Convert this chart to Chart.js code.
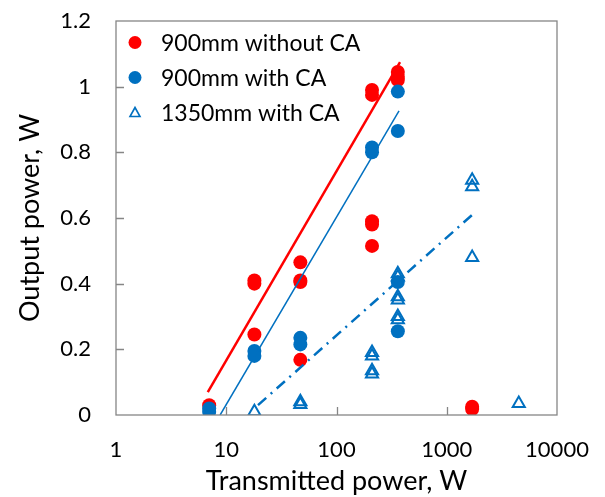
<!DOCTYPE html>
<html>
<head>
<meta charset="utf-8">
<script src="https://cdn.jsdelivr.net/npm/chart.js@4"></script>
<style>
  html, body { margin: 0; padding: 0; background: #fff; }
  #wrap { width: 605px; height: 497px; }
</style>
</head>
<body>
<div id="wrap"><canvas id="chart" width="605" height="497"></canvas></div>
<script>
// series names (legend order)
var seriesNames = ['900mm without CA', '900mm with CA', '1350mm with CA'];

// 900mm without CA
var redX = [7, 18, 18, 18, 47, 47, 47, 47, 210, 210, 210, 210, 210, 360, 360, 360, 1700, 1700];
var redY = [0.03, 0.41, 0.40, 0.245, 0.465, 0.41, 0.405, 0.168, 0.99, 0.975, 0.59, 0.58, 0.515, 1.045, 1.03, 1.02, 0.025, 0.018];

// 900mm with CA
var blueX = [7, 7, 18, 18, 47, 47, 210, 210, 360, 360, 360, 360];
var blueY = [0.02, 0.01, 0.195, 0.18, 0.235, 0.215, 0.815, 0.80, 0.985, 0.865, 0.405, 0.255];

// 1350mm with CA
var triX = [7, 18, 47, 47, 210, 210, 210, 210, 360, 360, 360, 360, 360, 360, 1700, 1700, 1700, 4500];
var triY = [0.005, 0.01, 0.04, 0.032, 0.19, 0.18, 0.135, 0.125, 0.43, 0.42, 0.36, 0.35, 0.30, 0.29, 0.715, 0.695, 0.48, 0.035];

// trendline end points
var redFitX = [6.8, 377], redFitY = [0.07, 1.075];
var blueFitX = [8.8, 369], blueFitY = [0.0, 0.926];
var triFitX = [19.4, 1694], triFitY = [0.03, 0.609];

// axis ticks
var xTicks = [1, 10, 100, 1000, 10000];
var yTicks = [0, 0.2, 0.4, 0.6, 0.8, 1, 1.2];

var RED = '#ff0000', BLUE = '#0070c0';
var FONT = 'Lato, "Open Sans", sans-serif';

function pts(xs, ys) {
	return xs.map(function (x, i) { return { x: x, y: ys[i] }; });
}

// inner tick marks and plot frame
var framePlugin = {
	id: 'frame',
	afterDatasetsDraw: function (chart) {
		var ctx = chart.ctx, a = chart.chartArea;
		var xs = chart.scales.x, ys = chart.scales.y;
		ctx.save();
		ctx.strokeStyle = '#868686';
		ctx.lineWidth = 1.3;
		ctx.strokeRect(a.left, a.top, a.right - a.left, a.bottom - a.top);
		ctx.beginPath();
		xTicks.slice(1, -1).forEach(function (v) {
			var px = Math.round(xs.getPixelForValue(v)) + 0.5;
			ctx.moveTo(px, a.bottom);
			ctx.lineTo(px, a.bottom - 8);
		});
		yTicks.slice(1, -1).forEach(function (v) {
			var py = Math.round(ys.getPixelForValue(v)) + 0.5;
			ctx.moveTo(a.left, py);
			ctx.lineTo(a.left + 8, py);
		});
		ctx.stroke();
		ctx.restore();
	}
};

// legend drawn inside the plot, top left
var legendPlugin = {
	id: 'innerLegend',
	afterDraw: function (chart) {
		var ctx = chart.ctx;
		ctx.save();
		ctx.font = '23px ' + FONT;
		ctx.textBaseline = 'middle';
		seriesNames.forEach(function (name, i) {
			var y = 42.5 + i * 35;
			if (i < 2) {
				ctx.beginPath();
				ctx.arc(135, y, 6.5, 0, Math.PI * 2);
				ctx.fillStyle = i === 0 ? RED : BLUE;
				ctx.fill();
			} else {
				ctx.beginPath();
				ctx.moveTo(135, y - 5);
				ctx.lineTo(140, y + 4);
				ctx.lineTo(130, y + 4);
				ctx.closePath();
				ctx.strokeStyle = BLUE;
				ctx.lineWidth = 1.6;
				ctx.stroke();
			}
			ctx.fillStyle = '#000';
			ctx.fillText(name, 161, y + 1);
		});
		ctx.restore();
	}
};

var ctx = document.getElementById('chart').getContext('2d');
var myChart = new Chart(ctx, {
	type: 'scatter',
	data: {
		datasets: [{
			label: seriesNames[2] + ' fit',
			type: 'line',
			data: pts(triFitX, triFitY),
			borderColor: BLUE,
			borderWidth: 2.5,
			borderDash: [11, 6, 2, 6],
			pointRadius: 0,
			fill: false
		}, {
			label: seriesNames[1] + ' fit',
			type: 'line',
			data: pts(blueFitX, blueFitY),
			borderColor: BLUE,
			borderWidth: 1.5,
			pointRadius: 0,
			fill: false
		}, {
			label: seriesNames[0] + ' fit',
			type: 'line',
			data: pts(redFitX, redFitY),
			borderColor: RED,
			borderWidth: 2.5,
			pointRadius: 0,
			fill: false
		}, {
			label: seriesNames[2],
			data: pts(triX, triY),
			pointStyle: 'triangle',
			pointRadius: 7,
			backgroundColor: 'rgba(255,255,255,0)',
			borderColor: BLUE,
			borderWidth: 2
		}, {
			label: seriesNames[1],
			data: pts(blueX, blueY),
			pointRadius: 7,
			backgroundColor: BLUE,
			borderColor: BLUE,
			borderWidth: 0
		}, {
			label: seriesNames[0],
			data: pts(redX, redY),
			pointRadius: 7,
			backgroundColor: RED,
			borderColor: RED,
			borderWidth: 0
		}]
	},
	options: {
		responsive: false,
		animation: false,
		layout: {
			padding: { top: 21, right: 48, left: 0, bottom: 0 }
		},
		plugins: {
			legend: { display: false },
			tooltip: { enabled: false }
		},
		scales: {
			x: {
				type: 'logarithmic',
				min: 1,
				max: 10000,
				afterBuildTicks: function (scale) {
					scale.ticks = xTicks.map(function (v) { return { value: v }; });
				},
				afterFit: function (scale) {
					scale.height = 82;
					scale.paddingLeft = 0;
					scale.paddingRight = 0;
				},
				grid: { display: false, drawTicks: false },
				border: { display: false },
				ticks: {
					padding: 22,
					color: '#000',
					font: { family: FONT, size: 22 },
					maxRotation: 0,
					callback: function (v) { return String(v); }
				},
				title: {
					display: true,
					text: 'Transmitted power, W',
					color: '#000',
					font: { family: FONT, size: 27 },
					padding: { top: 0, bottom: 0 }
				}
			},
			y: {
				min: 0,
				max: 1.2,
				afterBuildTicks: function (scale) {
					scale.ticks = yTicks.map(function (v) { return { value: v }; });
				},
				afterFit: function (scale) {
					scale.width = 116;
					scale.paddingTop = 0;
					scale.paddingBottom = 0;
				},
				grid: { display: false, drawTicks: false },
				border: { display: false },
				ticks: {
					padding: 25,
					color: '#000',
					font: { family: FONT, size: 22 },
					callback: function (v) { return String(+v.toFixed(1)); }
				},
				title: {
					display: true,
					text: 'Output power, W',
					color: '#000',
					font: { family: FONT, size: 27 },
					padding: { top: 14, bottom: 0 }
				}
			}
		}
	},
	plugins: [framePlugin, legendPlugin]
});
</script>
</body>
</html>
